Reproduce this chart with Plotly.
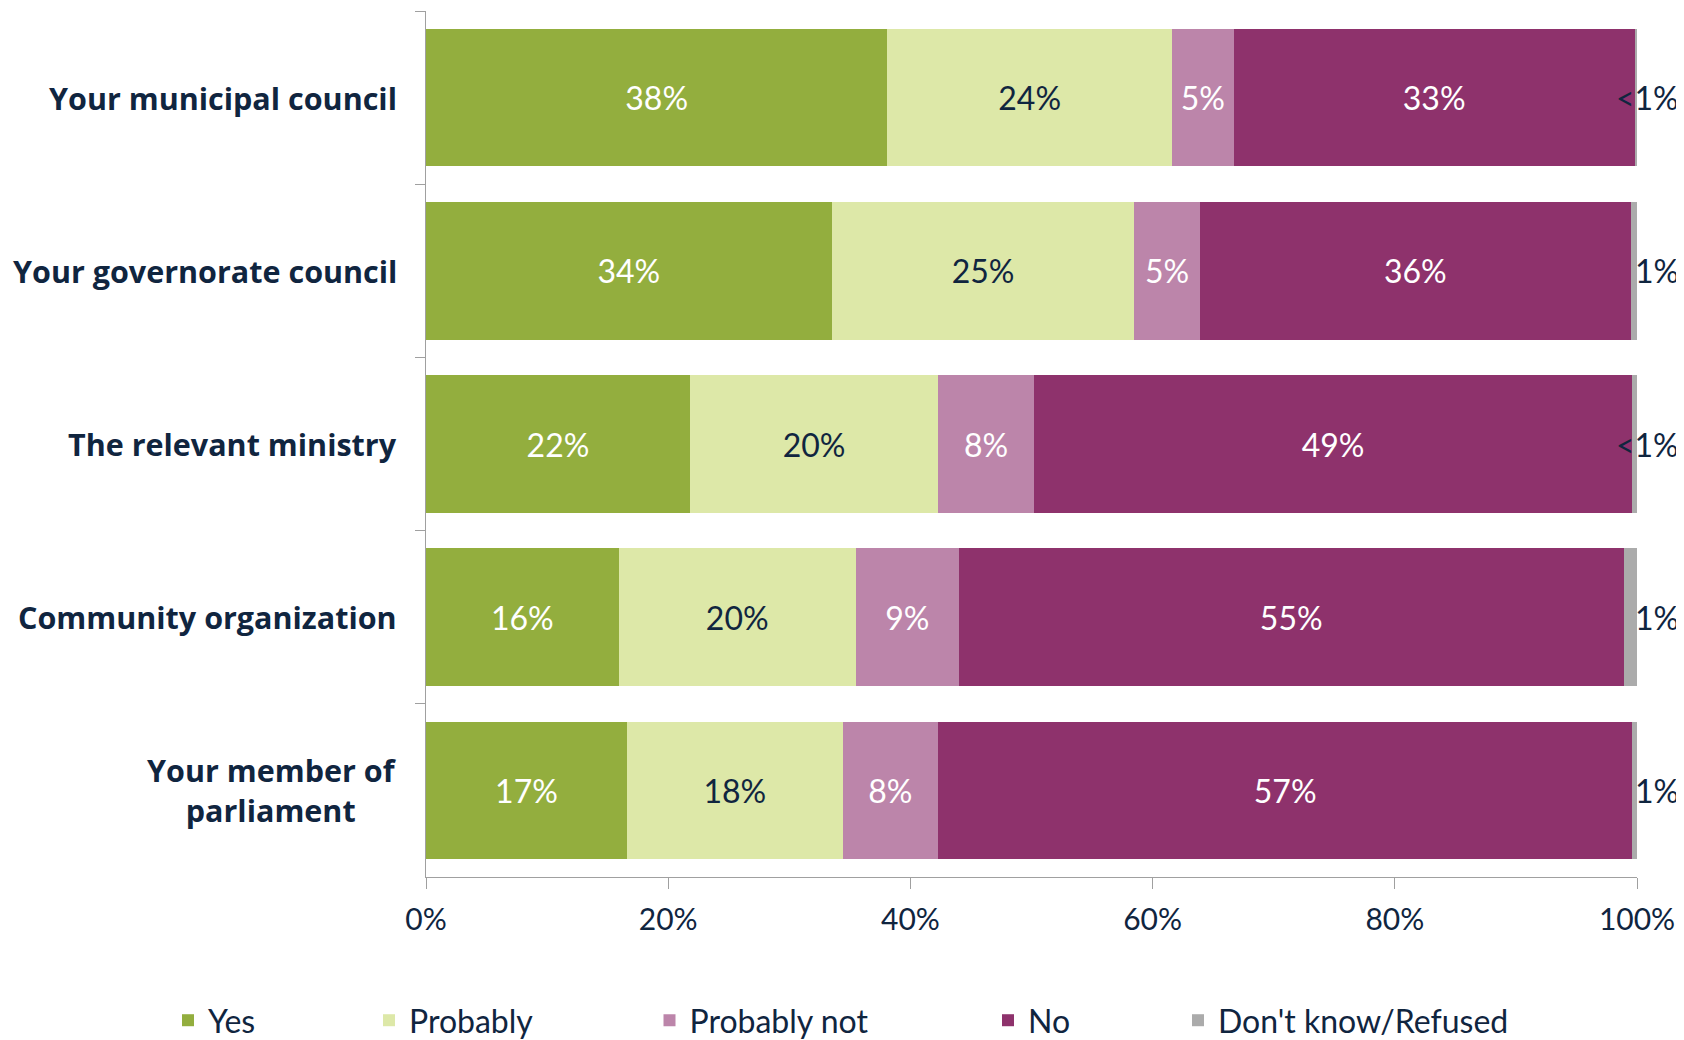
import plotly.graph_objects as go

categories = ["Your municipal council", "Your governorate council", "The relevant ministry",
              "Community organization", "Your member of<br>parliament"]
series_names = ["Yes", "Probably", "Probably not", "No", "Don't know/Refused"]
yes = [38.1, 33.5, 21.8, 15.9, 16.6]
probably = [23.5, 25.0, 20.5, 19.6, 17.8]
probably_not = [5.1, 5.4, 7.9, 8.5, 7.9]
no = [33.1, 35.6, 49.4, 54.9, 57.3]
dont_know = [0.2, 0.5, 0.4, 1.1, 0.4]

yes_labels = ["38%", "34%", "22%", "16%", "17%"]
probably_labels = ["24%", "25%", "20%", "20%", "18%"]
probably_not_labels = ["5%", "5%", "8%", "9%", "8%"]
no_labels = ["33%", "36%", "49%", "55%", "57%"]
dont_know_labels = ["<1%", "1%", "<1%", "1%", "1%"]

x_tick_vals = [0, 20, 40, 60, 80, 100]
x_tick_text = ["0%", "20%", "40%", "60%", "80%", "100%"]

colors = ["#93AE3E", "#DDE8A8", "#BC85AA", "#8E326C", "#ABABAB"]
text_colors = ["white", "#10253F", "white", "white", "#10253F"]
NAVY = "#10253F"
FONT = "Lato"
CAT_FONT = "Open Sans"

# page has an 8px body margin: figure is placed at (8, 8) in the window
OFF = 8
W, H = 1684 - OFF, 1040 - OFF
L, T = 426 - OFF, 11 - OFF
plot_w = 1211
plot_h = 866.5
R = W - L - plot_w
B = H - T - plot_h

values = [yes, probably, probably_not, no, dont_know]
labels = [yes_labels, probably_labels, probably_not_labels, no_labels, None]
legend_ids = ["legend", "legend2", "legend3", "legend4", "legend5"]

fig = go.Figure()
for i, name in enumerate(series_names):
    fig.add_trace(go.Bar(
        y=categories, x=values[i], name=name, orientation="h",
        marker=dict(color=colors[i], line=dict(width=0)),
        text=labels[i] if labels[i] is not None else None,
        textposition="inside" if labels[i] is not None else "none",
        insidetextanchor="middle",
        constraintext="none",
        textangle=0,
        textfont=dict(family=FONT, size=32, color=text_colors[i]),
        legend=legend_ids[i],
        hoverinfo="name+x",
    ))

annotations = []
for c in categories:
    annotations.append(dict(
        xref="paper", yref="y", x=0, y=c, xshift=-27, xanchor="right", yanchor="middle",
        text=c, align="center", showarrow=False,
        font=dict(family=CAT_FONT, size=30.5, color=NAVY, weight="bold"),
    ))
for c, t in zip(categories, dont_know_labels):
    annotations.append(dict(
        xref="paper", yref="y", x=(1681 - 426) / plot_w, y=c, xanchor="right", yanchor="middle",
        text=t, showarrow=False,
        font=dict(family=FONT, size=32, color=NAVY),
    ))

# legend text start positions (window pixels)
legend_text_px = [208, 409, 689.5, 1028, 1218]
legend_layouts = {}
for lid, px in zip(legend_ids, legend_text_px):
    legend_layouts[lid] = dict(
        x=(px - 40 - 426) / plot_w, xanchor="left",
        y=(877.5 - 1021) / plot_h, yanchor="middle",
        orientation="h", bgcolor="rgba(0,0,0,0)", borderwidth=0,
        font=dict(family=FONT, size=32, color=NAVY),
        itemclick=False, itemdoubleclick=False,
    )

fig.update_layout(
    width=W, height=H,
    margin=dict(l=L, r=R, t=T, b=B, autoexpand=False),
    barmode="stack", bargap=0.206,
    plot_bgcolor="white", paper_bgcolor="white",
    font=dict(family=FONT, color=NAVY),
    showlegend=True,
    annotations=annotations,
    xaxis=dict(
        range=[0, 100], tickmode="array", tickvals=x_tick_vals, ticktext=x_tick_text,
        ticks="outside", ticklen=11, tickcolor="#A0A0A0", tickwidth=1,
        showline=True, linecolor="#A0A0A0", linewidth=1,
        showgrid=False, zeroline=False,
        tickfont=dict(family=FONT, size=30, color=NAVY),
        ticklabelstandoff=5,
    ),
    yaxis=dict(
        type="category", categoryorder="array", categoryarray=categories,
        autorange="reversed",
        showticklabels=False, ticks="outside", ticklen=10, tickson="boundaries",
        tickcolor="#A0A0A0", showline=True, linecolor="#A0A0A0", linewidth=1,
        showgrid=False, zeroline=False,
    ),
    **legend_layouts,
)

fig.write_html("out.html")
